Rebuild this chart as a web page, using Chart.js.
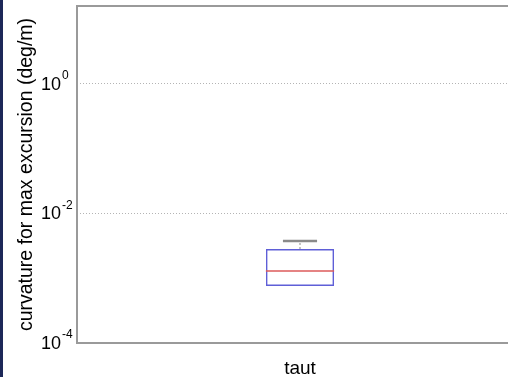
<!DOCTYPE html>
<html>
<head>
<meta charset="utf-8">
<script src="https://cdn.jsdelivr.net/npm/chart.js@4/dist/chart.umd.min.js"></script>
<style>
    html, body { margin: 0; padding: 0; background: #fff; overflow: hidden; }
    #wrap { position: relative; width: 523px; height: 377px; }
    #strip { position: absolute; left: 0; top: 0; width: 3px; height: 377px; background: #1c2858; z-index: 2; }
</style>
</head>
<body>
<div id="wrap">
    <div id="strip"></div>
    <canvas id="boxWidget" width="523" height="377"></canvas>
</div>
<script>
// box plot values
var categories = ["taut"];
var q1 = [7.6e-4];
var median = [1.29e-3];
var q3 = [2.83e-3];
var whiskerLow = [7.6e-4];
var whiskerHigh = [3.76e-3];
var yTicks = [1e-4, 1e-2, 1e0];
var yTickExp = ["-4", "-2", "0"];
var yTitle = "curvature for max excursion (deg/m)";

var boxes = [];
for (var i = 0; i < categories.length; i++)
    boxes.push([q1[i], q3[i]]);

// median, whiskers, frame and labels drawn against the chart's scales
var boxExtras = {
    id: 'boxExtras',
    afterDatasetsDraw: function (chart) {
        var ctx = chart.ctx;
        var y = chart.scales.y;
        var x = chart.scales.x;
        var area = chart.chartArea;
        var bars = chart.getDatasetMeta(0).data;

        ctx.save();
        for (var i = 0; i < bars.length; i++) {
            var cx = bars[i].x;
            var half = bars[i].width / 2;
            // whisker up
            ctx.strokeStyle = '#8a8a8a';
            ctx.lineWidth = 1;
            ctx.setLineDash([2, 2]);
            ctx.beginPath();
            ctx.moveTo(cx, y.getPixelForValue(q3[i]));
            ctx.lineTo(cx, y.getPixelForValue(whiskerHigh[i]));
            ctx.stroke();
            ctx.setLineDash([]);
            ctx.lineWidth = 2.5;
            ctx.beginPath();
            ctx.moveTo(cx - half / 2, y.getPixelForValue(whiskerHigh[i]));
            ctx.lineTo(cx + half / 2, y.getPixelForValue(whiskerHigh[i]));
            ctx.stroke();
            // median
            ctx.strokeStyle = 'rgb(220,90,90)';
            ctx.lineWidth = 1.5;
            ctx.beginPath();
            ctx.moveTo(cx - half, y.getPixelForValue(median[i]));
            ctx.lineTo(cx + half, y.getPixelForValue(median[i]));
            ctx.stroke();
        }

        // axes frame (right side runs off the picture)
        ctx.strokeStyle = '#9a9a9a';
        ctx.lineWidth = 2;
        ctx.beginPath();
        ctx.moveTo(area.right, area.top);
        ctx.lineTo(area.left, area.top);
        ctx.lineTo(area.left, area.bottom);
        ctx.lineTo(area.right, area.bottom);
        ctx.stroke();

        // y tick labels with exponent
        ctx.fillStyle = '#000';
        for (var k = 0; k < yTicks.length; k++) {
            var py = y.getPixelForValue(yTicks[k]);
            ctx.font = '18px "Liberation Sans", Arial, sans-serif';
            ctx.textAlign = 'right';
            ctx.textBaseline = 'middle';
            ctx.fillText("10", 61, py + 1);
            ctx.font = '12px "Liberation Sans", Arial, sans-serif';
            ctx.textAlign = 'left';
            ctx.fillText(yTickExp[k], 62, py - 8);
        }

        // x category labels
        ctx.font = '19px "Liberation Sans", Arial, sans-serif';
        ctx.textAlign = 'center';
        ctx.textBaseline = 'alphabetic';
        for (var c = 0; c < categories.length; c++)
            ctx.fillText(categories[c], x.getPixelForValue(c), 374);

        // y title
        ctx.translate(27, (area.top + area.bottom) / 2);
        ctx.rotate(-Math.PI / 2);
        ctx.textBaseline = 'middle';
        ctx.font = '19.5px "Liberation Sans", Arial, sans-serif';
        ctx.fillText(yTitle, 0, 0);
        ctx.restore();
    }
};

var ctx = document.getElementById('boxWidget').getContext('2d');
var chart = new Chart(ctx, {
    type: 'bar',
    data: {
        labels: categories,
        datasets: [{
            label: "box",
            data: boxes,
            backgroundColor: 'rgba(0,0,0,0)',
            borderColor: 'rgb(95,95,215)',
            borderWidth: 1.5,
            borderSkipped: false,
            categoryPercentage: 1,
            barPercentage: 0.153
        }]
    },
    options: {
        responsive: false,
        animation: false,
        layout: { padding: { left: 77, top: 6, bottom: 26, right: 0 } },
        plugins: { legend: { display: false }, tooltip: { enabled: false } },
        scales: {
            x: {
                ticks: { display: false },
                grid: { display: false },
                border: { display: false }
            },
            y: {
                type: 'logarithmic',
                min: 1e-4,
                max: 16,
                afterBuildTicks: function (axis) {
                    axis.ticks = yTicks.map(function (v) { return { value: v }; });
                },
                ticks: { display: false },
                grid: {
                    drawTicks: false,
                    color: function (c) { return c.tick && c.tick.value === 1e-4 ? 'rgba(0,0,0,0)' : '#b4b4b4'; },
                    lineWidth: 1
                },
                border: { display: false, dash: [1, 2] }
            }
        }
    },
    plugins: [boxExtras]
});
</script>
</body>
</html>
